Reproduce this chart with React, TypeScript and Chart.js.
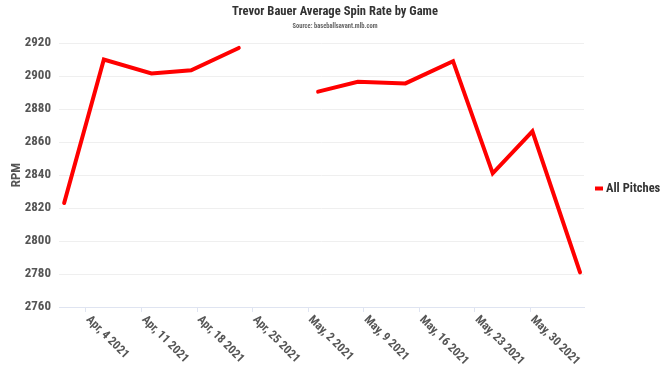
import React, { useEffect, useRef } from 'react';
import { Chart, registerables } from 'chart.js';

Chart.register(...registerables);

const FONT = "'Roboto Condensed', 'Liberation Sans Narrow', 'DejaVu Sans Condensed', Roboto, sans-serif";

const GAME_DATES = [
  '2021-04-01', '2021-04-06', '2021-04-12', '2021-04-17', '2021-04-23', '2021-04-28',
  '2021-05-03', '2021-05-08', '2021-05-14', '2021-05-20', '2021-05-25', '2021-05-30', '2021-06-05',
];
const SPIN_RATES: (number | null)[] = [
  2823, 2910, 2901.5, 2903.5, 2917, null,
  2890.5, 2896.5, 2895.5, 2909, 2841, 2866.5, 2781,
];
const SERIES_LABEL = 'All Pitches';
const SERIES_COLOR = '#ff0000';

const TICK_DATES = [
  '2021-04-04', '2021-04-11', '2021-04-18', '2021-04-25',
  '2021-05-02', '2021-05-09', '2021-05-16', '2021-05-23', '2021-05-30',
];
const TICK_LABELS = [
  'Apr, 4 2021', 'Apr, 11 2021', 'Apr, 18 2021', 'Apr, 25 2021',
  'May, 2 2021', 'May, 9 2021', 'May, 16 2021', 'May, 23 2021', 'May, 30 2021',
];

const Y_MIN = 2760;
const Y_MAX = 2920;
const Y_STEP = 20;

const TITLE = 'Trevor Bauer Average Spin Rate by Game';
const SUBTITLE = 'Source: baseballsavant.mlb.com';
const Y_TITLE = 'RPM';

// game times are recorded at UTC midnight, ticks at local midnight (6h offset)
const GAME_TIME_OFFSET_DAYS = 0.25;

const DAY_MS = 86400000;
const dayOf = (d: string) => (Date.parse(d) - Date.parse(TICK_DATES[0])) / DAY_MS;

const xLabelPlugin = {
  id: 'xRotatedLabels',
  afterDraw(chart: any) {
    const { ctx } = chart;
    const x = chart.scales.x;
    ctx.save();
    ctx.font = `bold 12px ${FONT}`;
    ctx.fillStyle = '#555555';
    ctx.textAlign = 'left';
    ctx.textBaseline = 'middle';
    TICK_DATES.forEach((d, i) => {
      const px = x.getPixelForValue(dayOf(d));
      ctx.save();
      ctx.translate(px + 2, chart.chartArea.bottom + 11);
      ctx.rotate(Math.PI / 4);
      ctx.fillText(TICK_LABELS[i], 0, 0);
      ctx.restore();
    });
    ctx.restore();
  },
};

const titleLegendPlugin = {
  id: 'titleAndLegend',
  afterDraw(chart: any) {
    const { ctx, chartArea } = chart;
    const cx = chart.width / 2;
    ctx.save();
    ctx.textAlign = 'center';
    ctx.textBaseline = 'middle';
    ctx.font = `bold 12.6px ${FONT}`;
    ctx.fillStyle = '#333333';
    ctx.fillText(TITLE, cx, 12);
    ctx.font = `bold 6.5px ${FONT}`;
    ctx.fillStyle = '#666666';
    ctx.fillText(SUBTITLE, cx, 26);

    const cy = chart.height / 2;
    const bx = chartArea.right + 11;
    ctx.fillStyle = SERIES_COLOR;
    ctx.fillRect(bx, cy - 2, 8, 4);
    ctx.font = `bold 12.5px ${FONT}`;
    ctx.fillStyle = '#333333';
    ctx.textAlign = 'left';
    ctx.fillText(SERIES_LABEL, bx + 11, cy);
    ctx.restore();
  },
};

export default function App() {
  const canvasRef = useRef<HTMLCanvasElement | null>(null);

  useEffect(() => {
    if (!canvasRef.current) return;
    Chart.defaults.font.family = FONT;

    const points = GAME_DATES.map((d, i) => ({
      x: dayOf(d) + GAME_TIME_OFFSET_DAYS,
      y: SPIN_RATES[i],
    }));
    const firstX = points[0].x;
    const lastX = points[points.length - 1].x;

    const chart = new Chart(canvasRef.current, {
      type: 'line',
      data: {
        datasets: [
          {
            label: SERIES_LABEL,
            data: points as any,
            borderColor: SERIES_COLOR,
            backgroundColor: SERIES_COLOR,
            borderWidth: 4,
            pointRadius: 0,
            tension: 0,
            spanGaps: false,
            borderCapStyle: 'round',
          },
        ],
      },
      options: {
        animation: false,
        responsive: false,
        layout: { padding: { left: 0, right: 86, top: 43, bottom: 65 } },
        plugins: {
          title: { display: false },
          subtitle: { display: false },
          legend: { display: false },
          tooltip: { enabled: false },
        },
        scales: {
          x: {
            type: 'linear',
            min: firstX - 0.65,
            max: lastX + 0.5,
            afterBuildTicks: (scale: any) => {
              scale.ticks = TICK_DATES.map((d) => ({ value: dayOf(d) }));
            },
            ticks: { display: false },
            grid: {
              drawOnChartArea: false,
              drawTicks: true,
              tickLength: 5,
              color: '#dfe4f1',
            },
            border: { display: true, color: '#dfe4f1', width: 1 },
          },
          y: {
            min: Y_MIN,
            max: Y_MAX,
            afterFit: (scale: any) => {
              scale.width = 59;
            },
            ticks: {
              stepSize: Y_STEP,
              padding: 8,
              color: '#555555',
              font: { size: 13, weight: 'bold', family: FONT },
              callback: (v: any) => String(v),
            },
            grid: { color: '#efefef', drawTicks: false },
            border: { display: false },
            title: {
              display: true,
              text: Y_TITLE,
              color: '#555555',
              font: { size: 13, weight: 'bold', family: FONT },
              padding: { top: 9, bottom: 0 },
            },
          },
        },
      },
      plugins: [xLabelPlugin, titleLegendPlugin],
    });
    return () => chart.destroy();
  }, []);

  return (
    <div style={{ position: 'fixed', left: 0, top: 0, width: 670, height: 377, background: '#ffffff' }}>
      <canvas ref={canvasRef} width={670} height={377} style={{ width: 670, height: 377 }} />
    </div>
  );
}
